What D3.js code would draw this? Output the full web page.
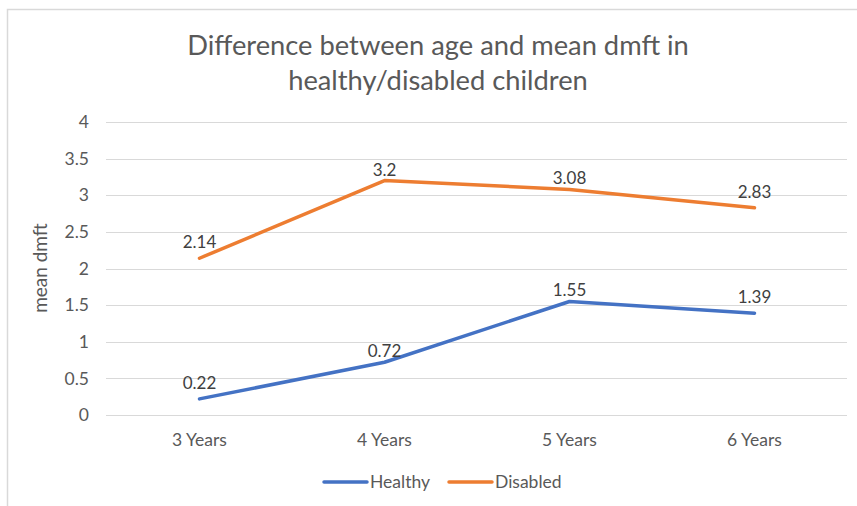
<!DOCTYPE html>
<html><head><meta charset="utf-8">
<script src="https://cdn.jsdelivr.net/npm/d3@7"></script>
<style>body{margin:0;background:#fff}svg{display:block}text{font-family:Lato,"Open Sans",sans-serif}</style>
</head><body><svg id="c" width="857" height="506"></svg>
<script>
const categories = ["3 Years","4 Years","5 Years","6 Years"];
const healthy = [0.22,0.72,1.55,1.39];
const disabled = [2.14,3.2,3.08,2.83];
const yTicks = [0,0.5,1,1.5,2,2.5,3,3.5,4];
const titleLines = ["Difference between age and mean dmft in","healthy/disabled children"];
const series = [
  {name:"Healthy", values:healthy, color:"#4472C4"},
  {name:"Disabled", values:disabled, color:"#ED7D31"}
];

const svg = d3.select("#c");
// border
svg.append("path").attr("d","M7.5,506 L7.5,9.5 L857,9.5").attr("fill","none").attr("stroke","#d9d9d9").attr("stroke-width",1.5);

const x = d3.scaleBand().domain(categories).range([107,847]);
const y = d3.scaleLinear().domain([0,4]).range([415,122]);

// gridlines
svg.append("g").selectAll("line").data(yTicks).join("line")
  .attr("x1",106).attr("x2",847).attr("y1",d=>Math.round(y(d))+0.5).attr("y2",d=>Math.round(y(d))+0.5)
  .attr("stroke","#d9d9d9").attr("stroke-width",1);

// y tick labels
svg.append("g").selectAll("text").data(yTicks).join("text")
  .attr("x",89).attr("y",d=>y(d)).attr("dy","0.35em").attr("text-anchor","end")
  .attr("fill","#595959").attr("font-size",17.5).text(d=>d);

// x tick labels
svg.append("g").selectAll("text").data(categories).join("text")
  .attr("x",d=>x(d)+x.bandwidth()/2).attr("y",440).attr("dy","0.35em").attr("text-anchor","middle")
  .attr("fill","#595959").attr("font-size",17.5).text(d=>d);

// title
svg.append("g").selectAll("text").data(titleLines).join("text")
  .attr("x",438).attr("y",(d,i)=>45+i*35).attr("dy","0.35em").attr("text-anchor","middle")
  .attr("fill","#595959").attr("font-size",27.3).text(d=>d);

// y axis title
svg.append("text").attr("transform","translate(40,268) rotate(-90)").attr("dy","0.35em")
  .attr("text-anchor","middle").attr("fill","#595959").attr("font-size",19).text("mean dmft");

const line = d3.line().x((d,i)=>x(categories[i])+x.bandwidth()/2).y(d=>y(d));
series.forEach(s=>{
  svg.append("path").datum(s.values).attr("d",line).attr("fill","none")
    .attr("stroke",s.color).attr("stroke-width",3.5).attr("stroke-linecap","round").attr("stroke-linejoin","round");
  const n = s.values.length;
  svg.append("g").selectAll("text").data(s.values).join("text")
    .attr("x",(d,i)=>x(categories[i])+x.bandwidth()/2)
    .attr("y",(d,i)=>y(d)-((i===0||i===n-1)?10:5))
    .attr("text-anchor","middle").attr("fill","#404040").attr("font-size",17).text(d=>d);
});

// legend
const leg = svg.append("g");
const legX = [324,449];
series.forEach((s,i)=>{
  leg.append("line").attr("x1",legX[i]).attr("x2",legX[i]+43).attr("y1",482).attr("y2",482)
    .attr("stroke",s.color).attr("stroke-width",3.5).attr("stroke-linecap","round");
  leg.append("text").attr("x",legX[i]+46).attr("y",482).attr("dy","0.35em")
    .attr("fill","#595959").attr("font-size",17.5).text(s.name);
});
</script></body></html>
